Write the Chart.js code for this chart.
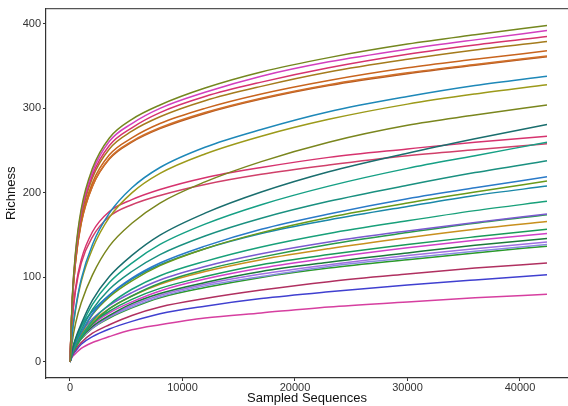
<!DOCTYPE html>
<html>
<head>
<meta charset="utf-8">
<script src="https://cdn.jsdelivr.net/npm/chart.js@4"></script>
<style>
  html, body { margin: 0; padding: 0; background: #fff; }
  #wrap { width: 568px; height: 406px; }
</style>
</head>
<body>
<div id="wrap"><canvas id="rareChart" width="568" height="406"></canvas></div>
<script>
// sequencing depths at which richness was read
const depths = [0, 200, 500, 1000, 2000, 3500, 5500, 8000, 12000, 17000, 23000, 30000, 36000, 42400];

// one row per sample
const richness = [
  [0, 76, 131, 181, 229, 265, 287, 304, 324, 343, 360, 376, 387, 398],
  [0, 74, 129, 178, 225, 261, 282, 300, 319, 338, 355, 370, 381, 392],
  [0, 73, 127, 175, 221, 256, 277, 295, 314, 331, 348, 364, 375, 385],
  [0, 72, 125, 172, 218, 252, 273, 290, 309, 326, 343, 358, 369, 379],
  [0, 70, 121, 167, 212, 245, 265, 282, 300, 317, 333, 348, 358, 368],
  [0, 69, 119, 165, 208, 241, 261, 277, 295, 312, 328, 342, 352, 362],
  [0, 69, 119, 164, 208, 240, 260, 276, 294, 311, 327, 341, 351, 361],
  [0, 34, 64, 98, 139, 176, 206, 230, 254, 275, 296, 314, 327, 338],
  [0, 33, 62, 95, 134, 171, 200, 223, 246, 267, 287, 305, 317, 328],
  [0, 24, 46, 70, 103, 137, 164, 188, 213, 237, 260, 280, 292, 304],
  [0, 14, 28, 45, 73, 101, 126, 150, 176, 201, 225, 247, 264, 281],
  [0, 51, 88, 121, 154, 178, 192, 204, 218, 230, 242, 252, 260, 267],
  [0, 13, 26, 42, 68, 94, 117, 139, 163, 186, 208, 229, 244, 260],
  [0, 49, 85, 117, 148, 172, 186, 197, 210, 222, 233, 244, 251, 258],
  [0, 12, 24, 38, 62, 86, 107, 127, 149, 170, 190, 209, 224, 238],
  [0, 11, 22, 35, 57, 79, 99, 117, 137, 157, 175, 193, 206, 219],
  [0, 11, 21, 34, 56, 77, 96, 114, 134, 153, 171, 188, 201, 214],
  [0, 15, 27, 42, 60, 79, 98, 115, 134, 152, 168, 184, 197, 208],
  [0, 10, 19, 30, 49, 68, 86, 102, 119, 136, 152, 167, 179, 190],
  [0, 12, 23, 35, 51, 67, 82, 97, 113, 128, 142, 155, 165, 175],
  [0, 9, 17, 28, 45, 63, 78, 93, 109, 124, 139, 153, 164, 174],
  [0, 12, 22, 33, 48, 63, 78, 92, 107, 121, 134, 147, 157, 166],
  [0, 11, 20, 31, 46, 60, 74, 87, 101, 115, 127, 139, 148, 157],
  [0, 11, 20, 30, 44, 58, 71, 84, 98, 111, 123, 135, 144, 152],
  [0, 10, 19, 29, 42, 55, 69, 81, 94, 107, 118, 129, 138, 146],
  [0, 10, 18, 28, 41, 54, 67, 79, 92, 104, 115, 126, 134, 142],
  [0, 10, 18, 28, 40, 53, 65, 77, 90, 101, 113, 123, 131, 139],
  [0, 10, 18, 27, 40, 52, 64, 76, 88, 100, 111, 121, 129, 137],
  [0, 8, 15, 23, 34, 44, 55, 65, 75, 85, 95, 104, 111, 117],
  [0, 7, 13, 21, 30, 39, 48, 57, 66, 75, 83, 91, 97, 103],
  [0, 6, 10, 16, 23, 30, 38, 44, 52, 58, 65, 71, 76, 80]
];

const lineColors = [
  "#74871f", "#d23fbf", "#d6336e", "#a47b1c", "#c8641e", "#d0702a", "#b85a20",
  "#1e88b8", "#9c9a1a", "#7a861e", "#1a6e6e", "#d6336e", "#16a085", "#d0406a",
  "#1a9080", "#2a7ac8", "#6a9a1a", "#1a88a8", "#18a07a", "#7a5ad0", "#2a9a4a",
  "#c8901e", "#1a9a5a", "#d040c8", "#1a7a3a", "#a070e0", "#8a8ae0", "#2a9a2a",
  "#b03060", "#4040d0", "#d63fa0"
];

const xTicks = [0, 10000, 20000, 30000, 40000];
const yTicks = [0, 100, 200, 300, 400];

const datasets = richness.map((row, i) => ({
  data: row.map((v, j) => ({ x: depths[j], y: v })),
  borderColor: lineColors[i],
  borderWidth: 1.5,
  pointRadius: 0,
  cubicInterpolationMode: "monotone",
  fill: false
}));

// top border of the panel
const topLine = {
  id: "topLine",
  afterDraw(c) {
    const a = c.chartArea;
    const ctx = c.ctx;
    ctx.save();
    ctx.strokeStyle = "#555";
    ctx.lineWidth = 1.2;
    ctx.beginPath();
    ctx.moveTo(a.left, a.top);
    ctx.lineTo(a.right, a.top);
    ctx.stroke();
    ctx.restore();
  }
};

const tickFont = { family: "'Liberation Sans', Arial, sans-serif", size: 11 };
const titleFont = { family: "'Liberation Sans', Arial, sans-serif", size: 13 };

new Chart(document.getElementById("rareChart"), {
  type: "line",
  data: { datasets },
  plugins: [topLine],
  options: {
    responsive: false,
    animation: false,
    layout: { padding: { top: 4, right: 0, left: 0, bottom: 0 } },
    plugins: { legend: { display: false }, tooltip: { enabled: false } },
    scales: {
      x: {
        type: "linear",
        min: -2133,
        max: 44267,
        afterBuildTicks: s => { s.ticks = xTicks.map(v => ({ value: v })); },
        afterFit: s => { s.height = 28; },
        grid: { drawOnChartArea: false, drawTicks: true, tickLength: 3, color: "#333" },
        border: { display: true, color: "#333", width: 1.2 },
        ticks: { color: "#333", font: tickFont, padding: 0, maxRotation: 0, callback: v => String(v) },
        title: { display: true, text: "Sampled Sequences", color: "#111", font: titleFont, padding: 0 }
      },
      y: {
        min: -19,
        max: 418,
        afterBuildTicks: s => { s.ticks = yTicks.map(v => ({ value: v })); },
        afterFit: s => { s.width = 46; },
        grid: { drawOnChartArea: false, drawTicks: true, tickLength: 3, color: "#333" },
        border: { display: true, color: "#333", width: 1.2 },
        ticks: { color: "#333", font: tickFont, padding: 2, callback: v => String(v) },
        title: { display: true, text: "Richness", color: "#111", font: titleFont, padding: { top: 4, bottom: 0 } }
      }
    }
  }
});
</script>
</body>
</html>
